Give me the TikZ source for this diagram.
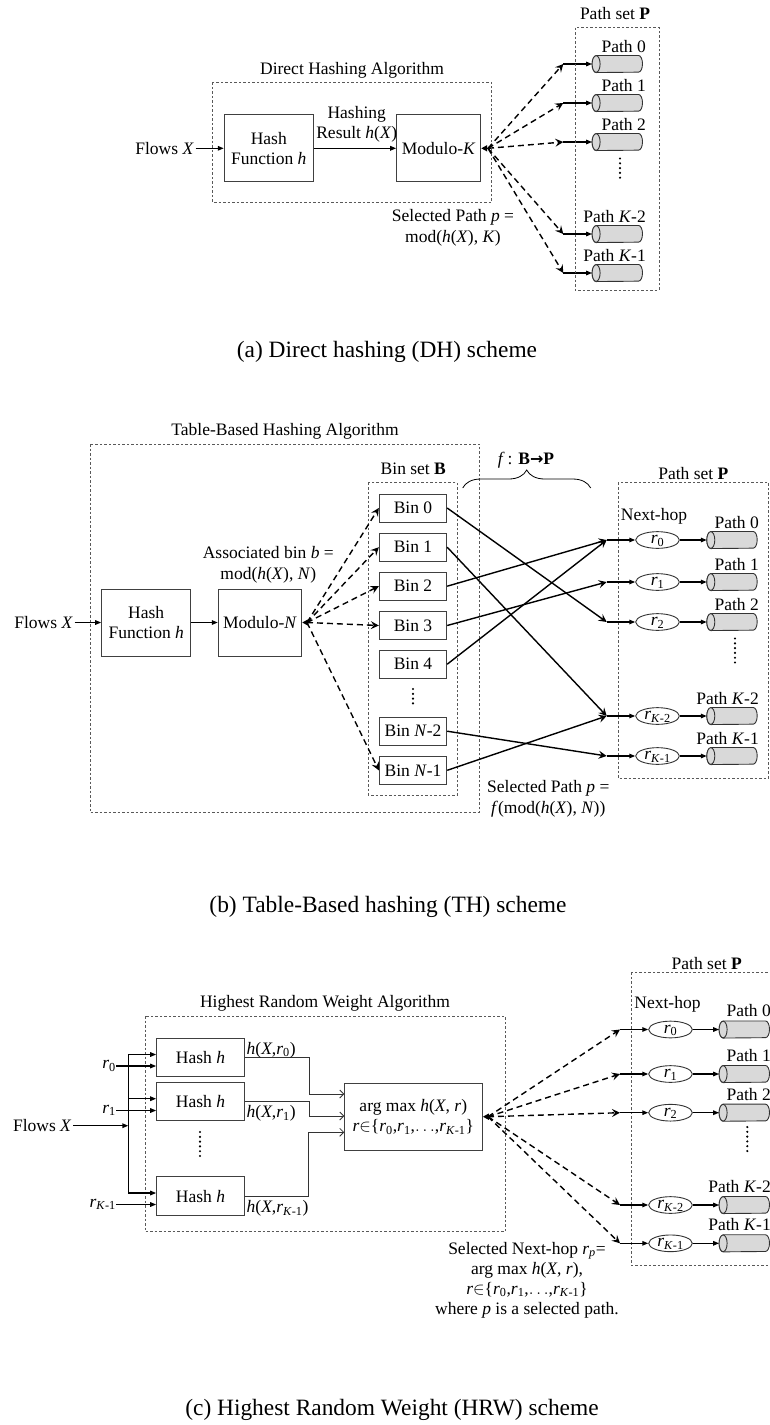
\documentclass[tikz,border=0pt]{standalone}
\usepackage{fontspec}
\setmainfont{Liberation Serif}
\newfontfamily\arrowfont{DejaVu Sans}
\usetikzlibrary{arrows.meta,shapes.geometric,decorations.pathreplacing}

% horizontal cylinder: an invisible anchor box, a grey body and a front face on the left
\newcommand\cylnode[2]{%
  \node[cylbox] (#1) at (#2) {};
  \path[cylline] ([xshift=4pt]#1.north west) -- ([xshift=-4pt]#1.north east)
     arc[start angle=90,end angle=-90,x radius=4pt,y radius=8.35pt]
     -- ([xshift=4pt]#1.south west)
     arc[start angle=270,end angle=90,x radius=4pt,y radius=8.35pt] -- cycle;
  \draw[cylline] ([xshift=4pt]#1.west) ellipse [x radius=4pt,y radius=8.35pt];
}

\begin{document}
\begin{tikzpicture}[x=1pt,y=-1pt,
  font=\fontsize{17.5}{20.5}\selectfont,
  box/.style={draw=black!75, line width=1pt, inner sep=0pt, align=center},
  grp/.style={draw=black!65, line width=0.8pt, dash pattern=on 2.5pt off 2pt},
  lbl/.style={inner sep=0pt, align=center},
  captxt/.style={inner sep=0pt, font=\fontsize{23.4}{28}\selectfont},
  fanarr/.style={line width=1.4pt, dash pattern=on 6pt off 4pt, -{Stealth[length=8pt,width=8pt,inset=3pt]}},
  solarr/.style={line width=1.4pt, -{Triangle[length=6pt,width=4.5pt]}},
  crossarr/.style={line width=1.4pt, -{Stealth[length=8pt,width=8pt,inset=3pt]}},
  thinarr/.style={line width=0.8pt, draw=black!80, -{Straight Barb[length=4pt,width=8pt]}},
  backtip/.style={line width=1.4pt, -{Triangle[length=6pt,width=6pt]}},
  nexthop/.style={ellipse, draw=black!80, line width=0.9pt, inner sep=0pt,
    minimum width=43.6pt, minimum height=16.7pt, text height=8pt, text depth=1pt},
  cylbox/.style={rectangle, inner sep=0pt, minimum width=50pt, minimum height=16.7pt},
  cylline/.style={draw=black!80, fill=black!15, line width=0.9pt},
  vdots/.style={line width=2.4pt, line cap=round, dash pattern=on 0pt off 4.8pt},
]
\path[fill=white, use as bounding box] (0,0) rectangle (769,1425);

% ---------------- (a) direct hashing ----------------
\node[lbl] (tA) at (352,70) {Direct Hashing Algorithm};
\draw[grp] (212.7,82.3) rectangle (491.7,202.3);
\node[lbl, anchor=east] (fxA) at (194,148.3) {Flows \textit{X}};
\node[box, minimum width=89pt, minimum height=66.7pt] (hashA) at (268.8,148.3) {Hash\\Function \textit{h}};
\node[box, minimum width=84pt, minimum height=66.7pt] (modA) at (438.7,148.3) {Modulo-\textit{K}};
\draw[solarr] ([xshift=1.5pt]fxA.east) -- (hashA.west);
\draw[solarr] (hashA) -- (modA);
\node[lbl] (hrA) at (356.7,124.5) {Hashing\\Result \textit{h}(\textit{X})};
\coordinate (fanA) at (488,148.3);
\draw[backtip] (fanA) -- (modA.east |- fanA);
\foreach \i/\y/\lab in {0/64/Path 0, 1/103/Path 1, 2/142/Path 2,
                        3/234/Path \textit{K}-2, 4/273/Path \textit{K}-1} {
  \coordinate (jA\i) at (563.3,\y);
  \cylnode{cA\i}{617.3,\y}
  \node[lbl, anchor=east] (pA\i) at (646,\y-17.5) {\lab};
  \draw[fanarr] (fanA) -- (jA\i);
  \draw[solarr] (jA\i) -- (cA\i.west);
}
\draw[vdots] (620,158.5) -- (620,182);
\draw[grp] (575,27.7) rectangle (659,290);
\node[lbl] (psA) at (615,13.3) {Path set \textbf{P}};
\node[lbl] (selA) at (453,228) {Selected Path \textit{p} =\\mod(\textit{h}(\textit{X}), \textit{K})};
\node[captxt] (capA) at (387,351.7) {(a) Direct hashing (DH) scheme};

% ---------------- (b) table-based hashing ----------------
\node[lbl] (tB) at (285,431.7) {Table-Based Hashing Algorithm};
\draw[grp] (90,444) rectangle (479.3,812.3);
\node[lbl, anchor=east] (fxB) at (73,622.5) {Flows \textit{X}};
\node[box, minimum width=89pt, minimum height=67pt] (hashB) at (146.2,622.5) {Hash\\Function \textit{h}};
\node[box, minimum width=83.4pt, minimum height=67pt] (modB) at (260,622.5) {Modulo-\textit{N}};
\draw[solarr] ([xshift=1.5pt]fxB.east) -- (hashB.west);
\draw[solarr] (hashB) -- (modB);
\node[lbl] (abB) at (268.3,564.7) {Associated bin \textit{b} =\\mod(\textit{h}(\textit{X}), \textit{N})};
\coordinate (fanB) at (307,622.5);
\draw[backtip] (fanB) -- (modB.east |- fanB);
\draw[grp] (368.3,482.7) rectangle (457.3,795);
\node[lbl] (bsB) at (413.3,468.3) {Bin set \textbf{B}};
\foreach \i/\y/\lab in {0/508/Bin 0, 1/547.2/Bin 1, 2/586.2/Bin 2, 3/625.5/Bin 3,
                        4/664.2/Bin 4, 5/731.2/Bin \textit{N}-2, 6/770.3/Bin \textit{N}-1}
  \node[box, minimum width=67.4pt, minimum height=28pt] (bin\i) at (413,\y) {\lab};
\draw[vdots] (413,689) -- (413,708);
\foreach \i in {0,1,2,3,6}
  \draw[fanarr] (fanB) -- (bin\i.west);

\draw[grp] (618.3,482.7) rectangle (768.3,778.3);
\node[lbl] (psB) at (693.3,473.3) {Path set \textbf{P}};
\node[lbl] (nhB) at (654,516) {Next-hop};
\foreach \i/\y/\sub/\lab in {0/540/0/Path 0, 1/582/1/Path 1, 2/622/2/Path 2,
                             3/716/\textit{K}-2/Path \textit{K}-2, 4/756/\textit{K}-1/Path \textit{K}-1} {
  \coordinate (jB\i) at (606.7,\y);
  \node[nexthop] (rB\i) at (657.5,\y) {\textit{r}\textsubscript{\sub}};
  \cylnode{cB\i}{732,\y}
  \node[lbl, anchor=east] (pB\i) at (759,\y-17.5) {\lab};
  \draw[solarr] (jB\i) -- (rB\i.west);
  \draw[solarr] (rB\i.east) -- (cB\i.west);
}
\foreach \b/\j in {0/2, 1/3, 2/0, 3/1, 4/0, 5/4, 6/3}
  \draw[crossarr] (bin\b.east) -- (jB\j);
\draw[vdots] (735,638.5) -- (735,663);
\draw[line width=0.8pt, decorate, decoration={brace, amplitude=18pt}] (462.7,488) -- (590.7,488);
\node[lbl] (fB) at (526,460) {\textit{f}\,: \textbf{B}{\arrowfont\bfseries\fontsize{16}{18}\selectfont →}\textbf{P}};
\node[lbl] (selB) at (548.3,799) {Selected Path \textit{p} =\\\textit{f}(mod(\textit{h}(\textit{X}), \textit{N}))};
\node[captxt] (capB) at (388,906.7) {(b) Table-Based hashing (TH) scheme};

% ---------------- (c) highest random weight ----------------
\node[lbl] (tC) at (325,1003.3) {Highest Random Weight Algorithm};
\draw[grp] (145.3,1016) rectangle (505,1231.7);
\foreach \i/\y in {1/1057.5, 2/1101.7, 3/1196}
  \node[box, minimum width=87.6pt, minimum height=38.4pt] (hC\i) at (200.5,\y) {Hash \textit{h}};
\draw[vdots] (200,1132) -- (200,1156.5);
\node[lbl, anchor=east] (fxC) at (71.7,1125.7) {Flows \textit{X}};
\coordinate (busT) at (128.3,1054.5);
\coordinate (busM) at (128.3,1098.7);
\coordinate (busB) at (128.3,1193);
\coordinate (busX) at (128.3,1125.7);
\draw[line width=1.6pt] (busT) -- (busB);
\draw[solarr] ([xshift=1.5pt]fxC.east) -- (busX);
\draw[solarr] (busT) -- (hC1.west |- busT);
\draw[solarr] (busM) -- (hC2.west |- busM);
\draw[solarr] (busB) -- (hC3.west |- busB);
\node[lbl, anchor=east] (r0C) at (116,1066) {\textit{r}\textsubscript{0}};
\node[lbl, anchor=east] (r1C) at (116,1110.5) {\textit{r}\textsubscript{1}};
\node[lbl, anchor=east] (rKC) at (116,1204.5) {\textit{r}\textsubscript{\textit{K}-1}};
\draw[solarr] (r0C.east) -- (hC1.west |- r0C.east);
\draw[solarr] (r1C.east) -- (hC2.west |- r1C.east);
\draw[solarr] (rKC.east) -- (hC3.west |- rKC.east);

\node[box, minimum width=138pt, minimum height=66.7pt] (amx) at (413.3,1116.7)
  {arg max \textit{h}(\textit{X}, \textit{r})\\\textit{r}$\in$\{\textit{r}\textsubscript{0},\textit{r}\textsubscript{1},$\ldots$,\textit{r}\textsubscript{\textit{K}-1}\}};
\coordinate (am1) at (344.3,1094);
\coordinate (am2) at (344.3,1116);
\coordinate (am3) at (344.3,1132.3);
\draw[thinarr] (hC1.east) -- ++(65,0) |- (am1);
\draw[thinarr] (hC2.east) -- ++(65,0) |- (am2);
\draw[thinarr] (hC3.east) -- ++(64,0) |- (am3);
\node[lbl, anchor=west] (o1) at (246.5,1050) {\textit{h}(\textit{X},\textit{r}\textsubscript{0})};
\node[lbl, anchor=west] (o2) at (246.5,1113.3) {\textit{h}(\textit{X},\textit{r}\textsubscript{1})};
\node[lbl, anchor=west] (o3) at (246.5,1208.3) {\textit{h}(\textit{X},\textit{r}\textsubscript{\textit{K}-1})};
\coordinate (fanC) at (488,1116.7);
\draw[backtip] (fanC) -- (amx.east |- fanC);

\draw[grp] (631.7,972.3) rectangle (800,1265.7);
\node[lbl] (psC) at (706.7,963.3) {Path set \textbf{P}};
\node[lbl] (nhC) at (667.5,1004) {Next-hop};
\foreach \i/\y/\sub/\lab in {0/1029.5/0/Path 0, 1/1074/1/Path 1, 2/1112.7/2/Path 2,
                             3/1205/\textit{K}-2/Path \textit{K}-2, 4/1243.3/\textit{K}-1/Path \textit{K}-1} {
  \coordinate (jC\i) at (620,\y);
  \node[nexthop] (rC\i) at (670.5,\y) {\textit{r}\textsubscript{\sub}};
  \cylnode{cC\i}{744.3,\y}
  \node[lbl, anchor=east] (pC\i) at (771,\y-18.5) {\lab};
  \draw[fanarr] (fanC) -- (jC\i);
  \draw[solarr] (jC\i) -- (rC\i.west);
  \draw[solarr] (rC\i.east) -- (cC\i.west);
}
\draw[vdots] (747.3,1127) -- (747.3,1151.5);
\node[lbl, font=\fontsize{17.5}{20}\selectfont] (selC) at (527,1280)
  {Selected Next-hop \textit{r}\textsubscript{\textit{p}}=\\arg max \textit{h}(\textit{X}, \textit{r}),\\\textit{r}$\in$\{\textit{r}\textsubscript{0},\textit{r}\textsubscript{1},$\ldots$,\textit{r}\textsubscript{\textit{K}-1}\}\\where \textit{p} is a selected path.};
\node[captxt] (capC) at (392,1410) {(c) Highest Random Weight (HRW) scheme};
\end{tikzpicture}
\end{document}
